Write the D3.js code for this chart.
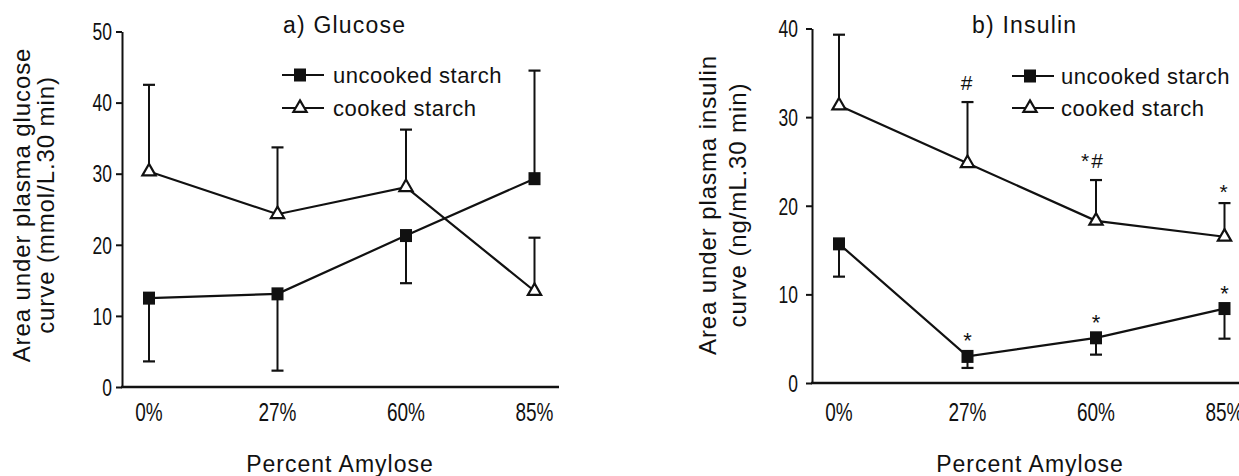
<!DOCTYPE html>
<html>
<head>
<meta charset="utf-8">
<script src="https://cdn.jsdelivr.net/npm/d3@7"></script>
<style>
  body { margin: 0; background: #fff; }
  svg { display: block; }
  text { font-family: "Liberation Sans", Arial, Helvetica, sans-serif; fill: #111; }
</style>
</head>
<body>
<div id="wrapper"></div>
<script>
// categories shared by both panels
const amylose = ['0%', '27%', '60%', '85%']
const seriesNames = ['uncooked starch', 'cooked starch']

// a) glucose, means and end of the error whisker
const glucoseUncooked = [12.5, 13.1, 21.3, 29.3]
const glucoseUncookedErr = [3.6, 2.3, 14.6, 44.5]
const glucoseCooked = [30.3, 24.3, 28.1, 13.5]
const glucoseCookedErr = [42.5, 33.7, 36.2, 21.0]
const glucoseTicks = [0, 10, 20, 30, 40, 50]

// b) insulin
const insulinUncooked = [15.7, 3.0, 5.1, 8.4]
const insulinUncookedErr = [12.0, 1.7, 3.2, 5.0]
const insulinCooked = [31.3, 24.8, 18.3, 16.5]
const insulinCookedErr = [39.3, 31.7, 22.9, 20.3]
const insulinTicks = [0, 10, 20, 30, 40]
const insulinUncookedMarks = ['', '*', '*', '*']
const insulinCookedMarks = ['', '#', '*#', '*']

// the tick numbers in the original are set in a condensed face
const narrow = 0.76

const svg = d3.select('#wrapper')
	.append('svg')
	.attr('width', 1239)
	.attr('height', 476)

function drawPanel(p) {
	const g = svg.append('g')

	const x = d3.scalePoint()
		.domain(amylose)
		.range([p.left + 27, p.left + 27 + 3 * 128.5])

	const y = d3.scaleLinear()
		.domain([0, d3.max(p.ticks)])
		.range([p.bottom, p.top])

	// y axis
	const yAxis = g.append('g')
		.attr('transform', `translate(${p.left},0)`)
		.call(d3.axisLeft(y).tickValues(p.ticks).tickSize(6).tickSizeOuter(0).tickPadding(p.tickPad))
	yAxis.selectAll('path, line').attr('stroke', '#111').attr('stroke-width', 2)
	yAxis.selectAll('text')
		.style('font-size', '23px')
		.attr('x', -(6 + p.tickPad) / narrow)
		.attr('dy', '0.36em')
		.attr('transform', `scale(${narrow},1)`)

	// x axis: plain line, labels without ticks
	g.append('line')
		.attr('x1', p.left - 1).attr('x2', p.left + 437)
		.attr('y1', p.bottom).attr('y2', p.bottom)
		.attr('stroke', '#111').attr('stroke-width', 2.5)

	g.append('g').selectAll('text')
		.data(amylose)
		.join('text')
		.attr('transform', d => `translate(${x(d)},421) scale(${narrow},1)`)
		.attr('text-anchor', 'middle')
		.style('font-size', '25px')
		.text(d => d)

	g.append('text')
		.attr('x', p.left + 218)
		.attr('y', 472)
		.attr('text-anchor', 'middle')
		.style('font-size', '23px')
		.style('letter-spacing', '1px')
		.text('Percent Amylose')

	// y label, two lines
	p.yLabel.forEach((t, i) => {
		g.append('text')
			.attr('transform', `translate(${p.yLabelX[i]},205) rotate(-90)`)
			.attr('text-anchor', 'middle')
			.style('font-size', '24px')
			.style('letter-spacing', '0.9px')
			.text(t)
	})

	g.append('text')
		.attr('x', p.titleX)
		.attr('y', 33)
		.style('font-size', '23px')
		.style('letter-spacing', '1.2px')
		.text(p.title)

	const series = [
		{ values: p.uncooked, err: p.uncookedErr, type: 'square' },
		{ values: p.cooked, err: p.cookedErr, type: 'triangle' },
	]

	const line = d3.line()
		.x((d, i) => x(amylose[i]))
		.y(d => y(d))

	series.forEach(s => {
		const eb = g.append('g')
		s.values.forEach((v, i) => {
			const cx = x(amylose[i])
			eb.append('line')
				.attr('x1', cx).attr('x2', cx)
				.attr('y1', y(v)).attr('y2', y(s.err[i]))
				.attr('stroke', '#111').attr('stroke-width', 2)
			eb.append('line')
				.attr('x1', cx - 6).attr('x2', cx + 6)
				.attr('y1', y(s.err[i])).attr('y2', y(s.err[i]))
				.attr('stroke', '#111').attr('stroke-width', 2.2)
		})
	})

	series.forEach(s => {
		g.append('path')
			.datum(s.values)
			.attr('d', line)
			.attr('fill', 'none')
			.attr('stroke', '#111')
			.attr('stroke-width', 2.2)
	})

	const tri = d3.symbol().type(d3.symbolTriangle).size(76)

	function marker(sel, type, cx, cy) {
		if (type === 'square') {
			sel.append('rect')
				.attr('x', cx - 6).attr('y', cy - 6.5)
				.attr('width', 12).attr('height', 13)
				.attr('fill', '#111')
		} else {
			sel.append('path')
				.attr('d', tri)
				.attr('transform', `translate(${cx},${cy})`)
				.attr('fill', '#fff')
				.attr('stroke', '#111')
				.attr('stroke-width', 2.2)
		}
	}

	series.forEach(s => {
		const mg = g.append('g')
		s.values.forEach((v, i) => marker(mg, s.type, x(amylose[i]), y(v)))
	})

	// significance marks
	if (p.uncookedMarks) {
		p.uncookedMarks.forEach((m, i) => {
			if (!m) return
			g.append('text')
				.attr('x', x(amylose[i]))
				.attr('y', y(p.uncooked[i]) - 8)
				.attr('text-anchor', 'middle')
				.style('font-size', '22px')
				.text(m)
		})
		p.cookedMarks.forEach((m, i) => {
			if (!m) return
			g.append('text')
				.attr('x', x(amylose[i]) - (m.length > 1 ? 3 : 0))
				.attr('y', y(p.cookedErr[i]) - (m.includes('#') ? 12 : 4))
				.attr('text-anchor', 'middle')
				.style('font-size', '21px')
				.style('letter-spacing', '2px')
				.text(m)
		})
	}

	// legend
	const lg = g.append('g')
	series.forEach((s, i) => {
		const ly = p.legendY[i]
		lg.append('line')
			.attr('x1', p.legendX).attr('x2', p.legendX + 42)
			.attr('y1', ly).attr('y2', ly)
			.attr('stroke', '#111').attr('stroke-width', 2.2)
		marker(lg, s.type, p.legendX + 18, ly)
		lg.append('text')
			.attr('x', p.legendX + p.legendGap)
			.attr('y', ly + 8)
			.style('font-size', '22px')
			.style('letter-spacing', '0.5px')
			.text(seriesNames[i])
	})
}

drawPanel({
	left: 122, top: 31.5, bottom: 387, ticks: glucoseTicks, tickPad: 4,
	uncooked: glucoseUncooked, uncookedErr: glucoseUncookedErr,
	cooked: glucoseCooked, cookedErr: glucoseCookedErr,
	title: 'a) Glucose', titleX: 283,
	yLabel: ['Area under plasma glucose', 'curve (mmol/L.30 min)'], yLabelX: [30, 54],
	legendX: 282, legendY: [75, 108], legendGap: 51,
})

drawPanel({
	left: 812, top: 28.5, bottom: 383, ticks: insulinTicks, tickPad: 8,
	uncooked: insulinUncooked, uncookedErr: insulinUncookedErr,
	cooked: insulinCooked, cookedErr: insulinCookedErr,
	uncookedMarks: insulinUncookedMarks, cookedMarks: insulinCookedMarks,
	title: 'b) Insulin', titleX: 972,
	yLabel: ['Area under plasma insulin', 'curve (ng/mL.30 min)'], yLabelX: [716, 746],
	legendX: 1012, legendY: [76, 108], legendGap: 49,
})
</script>
</body>
</html>
